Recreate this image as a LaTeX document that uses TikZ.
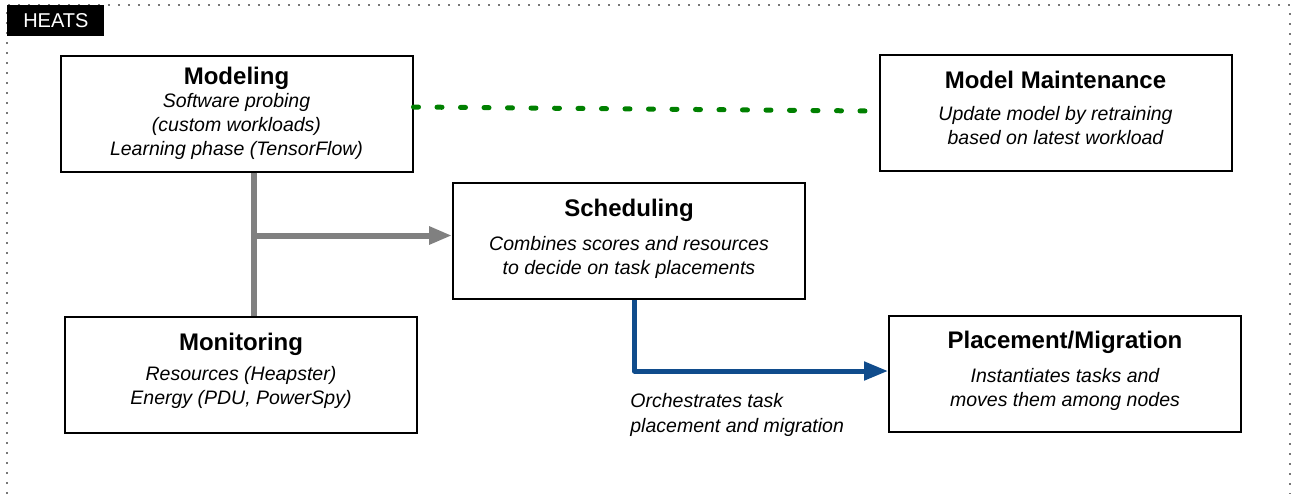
\documentclass[tikz,border=0pt]{standalone}
\usepackage{fontspec}
\setmainfont{Liberation Sans}
\usetikzlibrary{arrows.meta}

\definecolor{linegray}{RGB}{128,128,128}
\definecolor{arrowblue}{RGB}{16,76,140}
\definecolor{dotgreen}{RGB}{0,128,0}
\definecolor{framegray}{RGB}{120,120,120}

\newcommand{\blocktitle}[1]{{\fontsize{12}{14}\selectfont\bfseries\upshape #1}}
\newcommand{\lift}[1]{\rule[-#1]{0pt}{0pt}}

\begin{document}
\begin{tikzpicture}[x=0.5pt, y=-0.5pt,
	block/.style={draw, line width=1pt, minimum width=176pt, minimum height=58pt,
		align=center, inner sep=0pt, font=\fontsize{9.75}{12}\selectfont\itshape},
	tag/.style={fill=black, text=white, minimum width=48.5pt, minimum height=15.5pt,
		inner sep=0pt, font=\fontsize{10}{12}\selectfont},
	frame/.style={draw=framegray, line width=0.8pt, dash pattern=on 0.8pt off 4.2pt},
	feed/.style={draw=linegray, line width=3pt, -{Triangle[length=11.5pt,width=8.5pt]}},
	orchestrate/.style={draw=arrowblue, line width=2.5pt, line join=round,
		-{Triangle[length=12pt,width=9pt]}},
	sync/.style={draw=dotgreen, line width=2.5pt, line cap=round,
		dash pattern=on 2.5pt off 9.25pt}]
	\useasboundingbox (0,0) rectangle (1292,494);
	\draw[frame] (7,494) -- (7,5) -- (1290,5) -- (1290,494);
	\node[tag, anchor=north west] (heats) at (7,5) {HEATS};

	% boxes
	\node[block] (modeling) at (236.5,113.5) {\blocktitle{Modeling}\\[-0.5pt]
		Software probing\\ (custom workloads)\\ Learning phase (TensorFlow)};
	\node[block] (maintenance) at (1055.5,113) {\blocktitle{Model Maintenance}\\[4pt]
		Update model by retraining\\ based on latest workload\lift{5pt}};
	\node[block] (scheduling) at (629,241) {\blocktitle{Scheduling}\\[5pt]
		Combines scores and resources\\ to decide on task placements\lift{4pt}};
	\node[block] (monitoring) at (241,375) {\blocktitle{Monitoring}\\[3pt]
		Resources (Heapster)\\ Energy (PDU, PowerSpy)\lift{6pt}};
	\node[block] (placement) at (1065,374) {\blocktitle{Placement/Migration}\\[5pt]
		Instantiates tasks and\\ moves them among nodes\lift{5pt}};

	% connectors
	\coordinate (trunk) at (254,235.5);
	\draw[linegray, line width=3pt] (trunk |- modeling.south) -- (trunk |- monitoring.north);
	\draw[feed] (trunk) -- (trunk -| scheduling.west);
	\draw[orchestrate] ([xshift=2.75pt]scheduling.south) |- ([yshift=1.5pt]placement.west);
	\node[anchor=north west, align=left, inner sep=0pt, font=\fontsize{9.75}{12.5}\selectfont\itshape]
		(orchlabel) at (630,393) {Orchestrates task\\ placement and migration};
	\draw[sync] ([yshift=3.25pt]modeling.east) -- ([xshift=-5pt,yshift=1pt]maintenance.west);
\end{tikzpicture}
\end{document}
